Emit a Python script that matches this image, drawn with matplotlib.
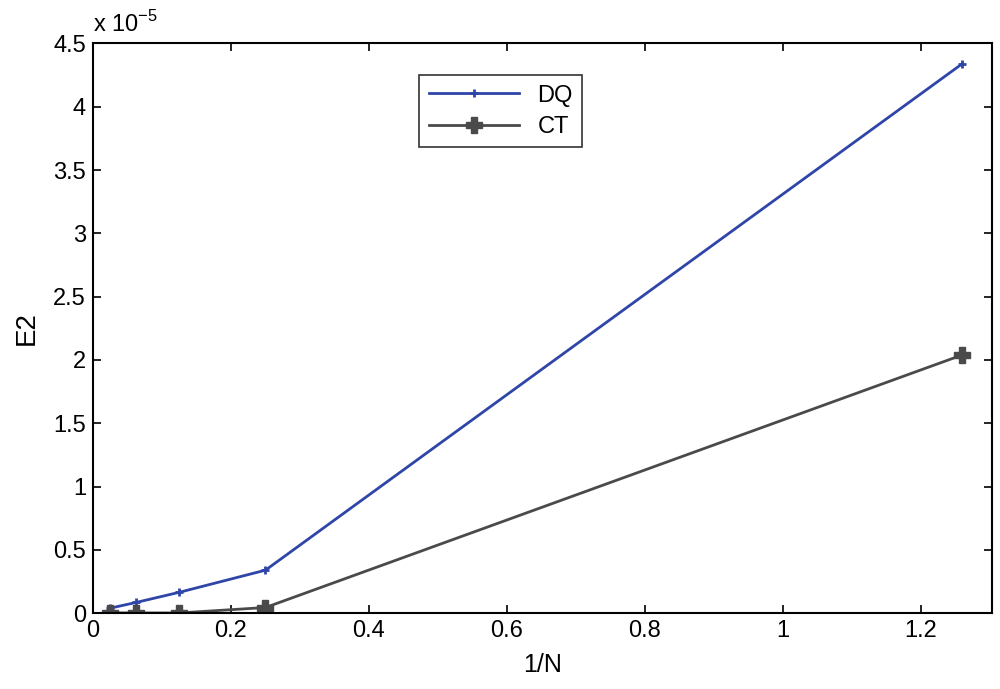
import matplotlib
matplotlib.use("Agg")
import matplotlib.pyplot as plt

x_vals = [0.025, 0.0625, 0.125, 0.25, 1.26]
dq_vals = [0.04, 0.085, 0.165, 0.34, 4.34]
ct_vals = [0.003, 0.002, 0.002, 0.045, 2.04]
xticks = [0, 0.2, 0.4, 0.6, 0.8, 1, 1.2]
xticklabels = ["0", "0.2", "0.4", "0.6", "0.8", "1", "1.2"]
yticks = [0, 0.5, 1, 1.5, 2, 2.5, 3, 3.5, 4, 4.5]
yticklabels = ["0", "0.5", "1", "1.5", "2", "2.5", "3", "3.5", "4", "4.5"]

plt.rcParams['font.family'] = ['Liberation Sans', 'DejaVu Sans']

fig = plt.figure(figsize=(10, 6.89), dpi=100)
ax = fig.add_axes([0.093, 0.11, 0.899, 0.827])

ax.plot(x_vals, dq_vals, color='#2f45a8', lw=2, marker='+', ms=6, mew=2, label='DQ')
ax.plot(x_vals, ct_vals, color='#4a4a4a', lw=2, marker='P', ms=11, label='CT')

ax.set_xlim(0, 1.303)
ax.set_ylim(0, 4.5)
ax.set_xticks(xticks)
ax.set_xticklabels(xticklabels)
ax.set_yticks(yticks)
ax.set_yticklabels(yticklabels)
ax.tick_params(direction='in', length=6, labelsize=17, top=True, right=True, width=1.2, pad=5)
for s in ax.spines.values():
    s.set_linewidth(1.5)
ax.set_xlabel('1/N', fontsize=18, labelpad=8)
ax.set_ylabel('E2', fontsize=20, labelpad=10)
ax.text(0.0, 1.012, r'x 10$^{\mathregular{-5}}$', transform=ax.transAxes, fontsize=17, ha='left', va='bottom')

leg = ax.legend(loc='upper left', bbox_to_anchor=(0.35, 0.965), fontsize=17, frameon=True,
                fancybox=False, edgecolor='black', handlelength=3.8, borderpad=0.4,
                labelspacing=0.4)
leg.get_frame().set_linewidth(1.2)

fig.savefig('out.png', dpi=100)
